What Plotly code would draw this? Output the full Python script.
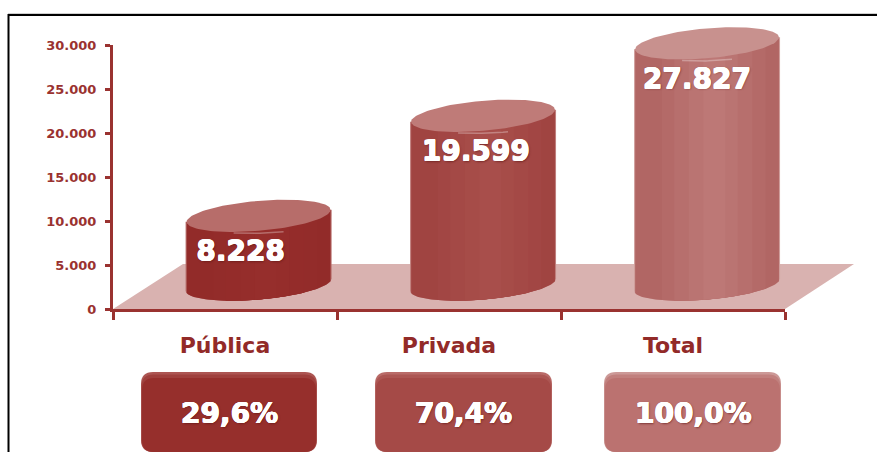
import numpy as np
import plotly.graph_objects as go

CATEGORIES = ["Pública", "Privada", "Total"]
VALUES = [8228, 19599, 27827]
VALUE_TEXT = ["8.228", "19.599", "27.827"]
SHARES = ["29,6%", "70,4%", "100,0%"]
Y_TICKS = [0, 5000, 10000, 15000, 20000, 25000, 30000]
Y_LABELS = ["0", "5.000", "10.000", "15.000", "20.000", "25.000", "30.000"]

W, H = 877, 452
X0, X3, Y0, Y30 = 113, 785, 309, 45
PX_X = (X3 - X0) / 3
PX_Y = (Y0 - Y30) / 30000
RED = "#9a3230"
SIDE = [(146, 43, 41), (160, 68, 65), (177, 102, 100)]
CENTRE = [(150, 46, 44), (168, 78, 75), (189, 120, 118)]
EDGE = ["#b56a68", "#c07f7d", "#cf9e9c"]
TOP = ["#b76d6a", "#bf7b78", "#c8918e"]
BOX = ["#962f2c", "#a54a47", "#bb7270"]
BOX_MID = ["#9f403d", "#ac5653", "#c1807e"]
BOX_HI = ["#ac5552", "#b96b68", "#cc9997"]
FONT = "DejaVu Sans"

CX = [0.65, 1.652, 2.652]
LABEL_X = [0.57, 1.62, 2.607]
A = 73 / PX_X
B = 15 / PX_Y
K = 6 / PX_Y
BASE_FLOOR = 2770
BASE_TOP = 2360


def heavy(color, r=0.4, extra=""):
    s = [f"{dx}px {dy}px 0 {color}" for dx in (-r, r) for dy in (-r, r)]
    return ", ".join(s + ([extra] if extra else []))


def xp(v):
    return v / W


def yp(v):
    return 1 - v / H


fig = go.Figure()


def poly(xs, ys, color):
    fig.add_trace(go.Scatter(x=xs, y=ys, mode="lines", fill="toself", fillcolor=color,
                             line=dict(width=0, color=color), hoverinfo="skip",
                             showlegend=False, xaxis="x", yaxis="y"))


def body(cx, value, f0, f1, color):
    t = np.linspace(np.arccos(f1), np.arccos(f0), 60)
    bx = cx + A * np.cos(t)
    by = BASE_FLOOR - B * np.sin(t) + K * np.cos(t)
    top = BASE_TOP + value
    xs = np.r_[bx, cx + A * f0, cx + A * f1, bx[0]]
    ys = np.r_[by, top + K * f0, top + K * f1, by[0]]
    poly(xs, ys, color)


def rgb(c):
    return "rgb(%d,%d,%d)" % tuple(int(round(x)) for x in c)


for i, v in enumerate(VALUES):
    c = CX[i]
    body(c, v, -1, 1, EDGE[i])
    body(c, v, -0.985, 0.985, rgb(SIDE[i]))
    for lo, hi, mix in [(-0.62, 0.8, 0.25), (-0.45, 0.62, 0.5), (-0.25, 0.42, 0.75), (-0.05, 0.25, 1.0)]:
        col = [s + (m - s) * mix for s, m in zip(SIDE[i], CENTRE[i])]
        body(c, v, lo, hi, rgb(col))
    t = np.linspace(0, 2 * np.pi, 121)
    top = BASE_TOP + v
    poly(c + A * 0.985 * np.cos(t), top + B * np.sin(t) + K * np.cos(t), TOP[i])
    arc = np.linspace(np.radians(250), np.radians(290), 20)
    fig.add_trace(go.Scatter(x=c + A * np.cos(arc), y=top + B * np.sin(arc) - 2.5 / PX_Y + K * 0.3 * np.cos(arc),
                             mode="lines", line=dict(width=1.5, color="rgba(255,255,255,0.3)"),
                             hoverinfo="skip", showlegend=False, xaxis="x", yaxis="y"))

fig.add_trace(go.Scatter(
    x=LABEL_X, y=[BASE_TOP + v - 38 / PX_Y for v in VALUES], mode="text", text=VALUE_TEXT,
    textposition="middle center", cliponaxis=False, hoverinfo="skip", showlegend=False,
    textfont=dict(family=FONT, size=28, color="white", weight="bold",
                  shadow=heavy("white", extra="1px 1px 2px rgba(90,20,20,0.6)")),
    xaxis="x", yaxis="y"))

# Invisible trace keeps the visible axes on the page
fig.add_trace(go.Scatter(x=[0, 3], y=[0, 30000], mode="none", hoverinfo="skip", showlegend=False,
                         xaxis="x2", yaxis="y2"))

shapes = [
    dict(type="line", xref="paper", yref="paper", x0=xp(8), x1=1, y0=yp(13.5), y1=yp(13.5),
         line=dict(color="#cfcfcf", width=1), layer="below"),
    dict(type="rect", xref="paper", yref="paper", x0=xp(8.5), x1=xp(W + 20), y0=yp(H + 20), y1=yp(15),
         line=dict(color="black", width=2), layer="below"),
    dict(type="path", xref="paper", yref="paper", layer="below", line=dict(width=0), fillcolor="#d9b2b0",
         path=f"M {xp(X0)} {yp(Y0)} L {xp(183)} {yp(264)} L {xp(854)} {yp(264)} L {xp(X3)} {yp(Y0)} Z"),
]

BOX_X = [(141, 317), (375, 552), (604, 781)]
annotations = []


def rounded(x0, x1, y0, y1, r):
    return (f"M {xp(x0 + r)} {yp(y0)} L {xp(x1 - r)} {yp(y0)} "
            f"Q {xp(x1)} {yp(y0)} {xp(x1)} {yp(y0 + r)} L {xp(x1)} {yp(y1 - r)} "
            f"Q {xp(x1)} {yp(y1)} {xp(x1 - r)} {yp(y1)} L {xp(x0 + r)} {yp(y1)} "
            f"Q {xp(x0)} {yp(y1)} {xp(x0)} {yp(y1 - r)} L {xp(x0)} {yp(y0 + r)} "
            f"Q {xp(x0)} {yp(y0)} {xp(x0 + r)} {yp(y0)} Z")


for i, (a, b) in enumerate(BOX_X):
    for col, inset, tp in [(BOX_HI[i], 0, 372), (BOX_MID[i], 0.5, 374.5), (BOX[i], 1, 378)]:
        shapes.append(dict(type="path", xref="paper", yref="paper", layer="below", line=dict(width=0),
                           fillcolor=col, path=rounded(a + inset, b - inset, tp, 452, 12)))
    annotations.append(dict(text=SHARES[i], xref="paper", yref="paper", x=xp((a + b) / 2 + 0.5), y=yp(413),
                            showarrow=False, xanchor="center", yanchor="middle",
                            font=dict(family=FONT, size=28, color="white", weight="bold",
                                      shadow=heavy("white", extra="1px 1px 2px rgba(90,20,20,0.6)"))))

fig.update_layout(
    width=W, height=H, autosize=False, margin=dict(l=0, r=0, t=0, b=0, autoexpand=False),
    paper_bgcolor="white", plot_bgcolor="rgba(0,0,0,0)", showlegend=False,
    shapes=shapes, annotations=annotations,
    xaxis=dict(domain=[0, 1], range=[(0 - X0) / PX_X, (W - X0) / PX_X], visible=False, fixedrange=True, automargin=False),
    yaxis=dict(domain=[0, 1], range=[(Y0 - H) / PX_Y, Y0 / PX_Y], visible=False, fixedrange=True, automargin=False),
    xaxis2=dict(domain=[xp(X0), xp(X3)], range=[0, 3], anchor="y2", showgrid=False, zeroline=False,
                showline=True, linecolor=RED, linewidth=3, automargin=False,
                tickvals=[0.5, 1.5, 2.5], ticktext=CATEGORIES, ticks="", ticklabelstandoff=15,
                tickfont=dict(family=FONT, size=22, color="#922a28", weight="bold"),
                minor=dict(tickvals=[0, 1, 2, 3], ticks="outside", ticklen=8, tickwidth=3, tickcolor=RED, showgrid=False),
                fixedrange=True),
    yaxis2=dict(domain=[yp(Y0), yp(Y30)], range=[0, 30000], anchor="x2", showgrid=False, zeroline=False,
                showline=True, linecolor=RED, linewidth=3, automargin=False,
                tickvals=Y_TICKS, ticktext=Y_LABELS, ticks="outside", ticklen=5, tickwidth=3, tickcolor=RED,
                ticklabelstandoff=6,
                tickfont=dict(family=FONT, size=13, color=RED, weight="bold"), fixedrange=True),
)
fig.write_html("out.html", config=dict(displayModeBar=False),
               post_script="document.body.style.margin='0';document.body.style.overflow='hidden';"
                           "var d=document.body.firstElementChild;if(d){d.style.margin='0';d.style.position='absolute';d.style.left='0';d.style.top='0';}")
